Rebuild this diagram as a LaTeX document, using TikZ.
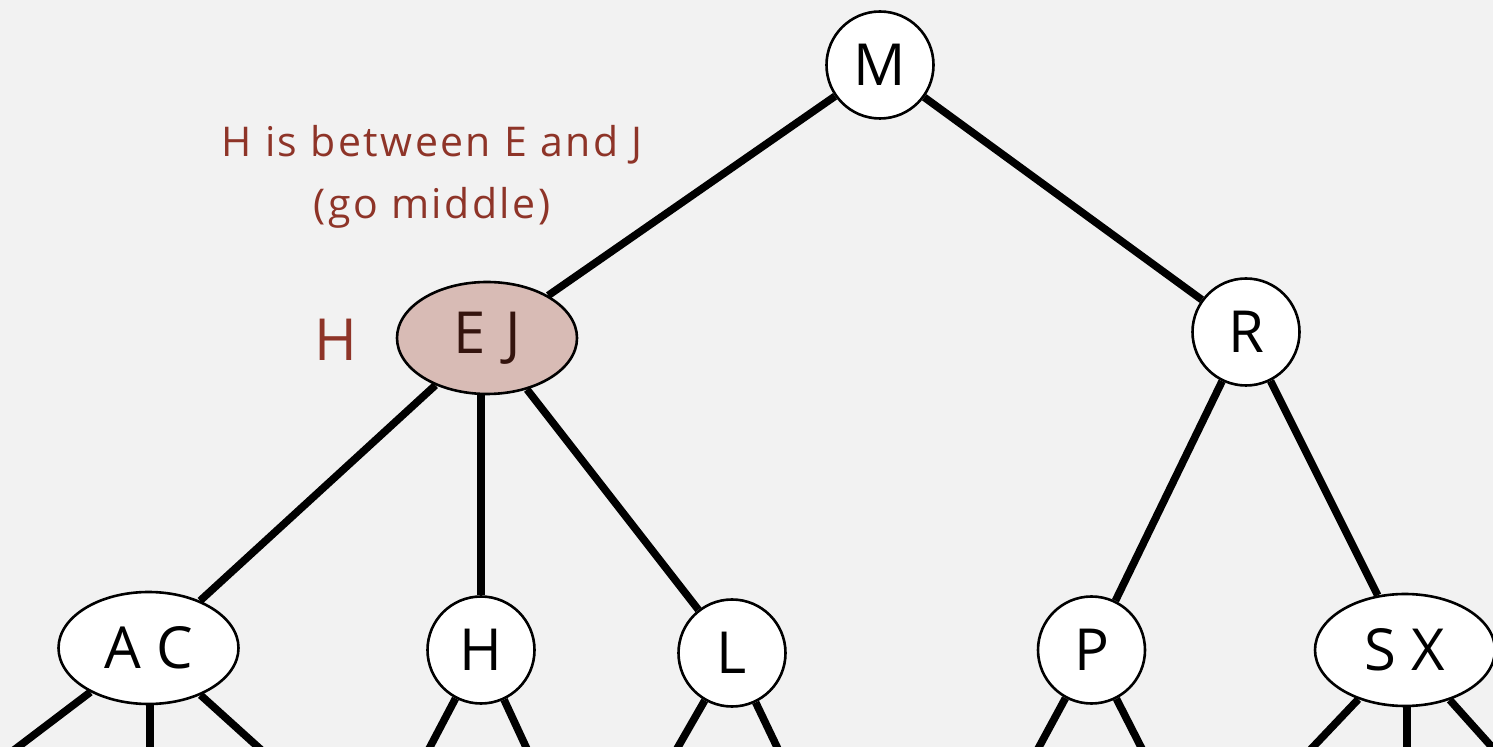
\documentclass[tikz,border=0pt]{standalone}
\usepackage{fontspec}
\setmainfont{Open Sans}
\newfontfamily\notefont[LetterSpace=6]{Open Sans}
\usetikzlibrary{shapes.geometric}
\definecolor{bg}{RGB}{242,242,242}
\definecolor{hl}{RGB}{216,187,181}
\definecolor{hltext}{RGB}{52,20,14}
\definecolor{note}{RGB}{142,52,40}
\tikzset{
  tnode/.style={draw=black, line width=1.3pt, fill=white, inner sep=0pt, font=\fontsize{29}{34}\selectfont},
  cnode/.style={tnode, circle, minimum size=53.5pt},
  enode/.style={tnode, ellipse, minimum width=90pt, minimum height=56pt},
  link/.style={line width=3.8pt, black},
  stub/.style={link, shorten >=-8pt},
  notetext/.style={text=note, font=\notefont\fontsize{20.5}{26.5}\selectfont, anchor=base, inner sep=0pt}
}
\begin{document}
\begin{tikzpicture}[x=0.5pt, y=-0.5pt]
\fill[bg] (0,0) rectangle (1493,747);
\useasboundingbox (0,0) rectangle (1493,747);
\clip (0,0) rectangle (1493,747);
% nodes
\node[cnode] (M) at (880,65) {M};
\node[enode, fill=hl, text=hltext] (EJ) at (487,338) {E\,\,J};
\node[cnode] (R) at (1246,332) {R};
\node[enode] (AC) at (148.5,648) {A C};
\node[cnode] (H) at (481,650) {H};
\node[cnode] (L) at (732,653) {L};
\node[cnode] (P) at (1091.5,650) {P};
\node[enode] (SX) at (1405,650) {S X};
% stub ends
\coordinate (ac1) at (18,747);
\coordinate (ac2) at (150,747);
\coordinate (ac3) at (258,747);
\coordinate (h1) at (430,747);
\coordinate (h2) at (526,747);
\coordinate (l1) at (678,747);
\coordinate (l2) at (777,747);
\coordinate (p1) at (1039,747);
\coordinate (p2) at (1141,747);
\coordinate (sx1) at (1313,747);
\coordinate (sx2) at (1407,747);
\coordinate (sx3) at (1500,756);
% edges
\draw[link] (M) -- (EJ);
\draw[link] (M) -- (R);
\draw[link] (EJ) -- (AC);
\draw[link] (EJ.south -| H) -- (H);
\draw[link] (EJ) -- (L);
\draw[link] (R) -- (P);
\draw[link] (R) -- (SX);
\draw[stub] (AC) -- (ac1);
\draw[stub] (AC.south -| ac2) -- (ac2);
\draw[stub] (AC) -- (ac3);
\draw[stub] (H) -- (h1);
\draw[stub] (H) -- (h2);
\draw[stub] (L) -- (l1);
\draw[stub] (L) -- (l2);
\draw[stub] (P) -- (p1);
\draw[stub] (P) -- (p2);
\draw[stub] (SX) -- (sx1);
\draw[stub] (SX.south -| sx2) -- (sx2);
\draw[stub] (SX) -- (sx3);
% notes
\node[notetext] (note1) at (432,157) {H is between E and J};
\node[notetext] (note2) at (432,219) {(go middle)};
\node[text=note, font=\fontsize{29}{34}\selectfont] (hkey) at (336,340) {H};
\end{tikzpicture}
\end{document}
